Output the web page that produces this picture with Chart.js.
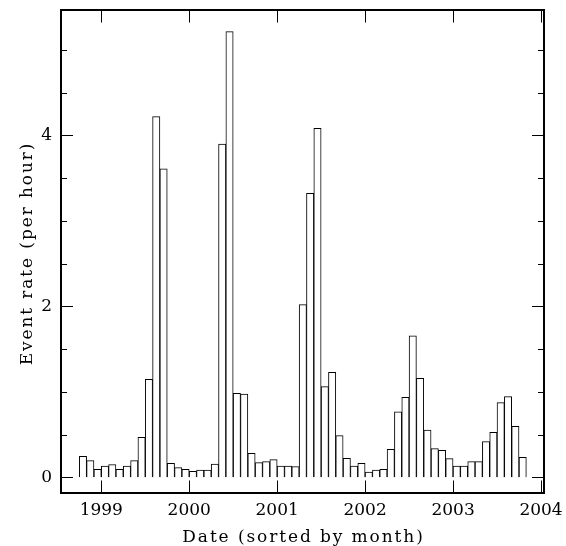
<!DOCTYPE html>
<html>
<head>
<meta charset="utf-8">
<script src="https://cdn.jsdelivr.net/npm/chart.js@4/dist/chart.umd.min.js"></script>
<style>
  html, body { margin: 0; padding: 0; background: #fff; }
</style>
</head>
<body>
<canvas id="rateChart" width="566" height="546"></canvas>
<script>
// Monthly bins, Oct 1998 .. Oct 2003
const months = [
  "1998-10", "1998-11", "1998-12",
  "1999-01", "1999-02", "1999-03", "1999-04", "1999-05", "1999-06",
  "1999-07", "1999-08", "1999-09", "1999-10", "1999-11", "1999-12",
  "2000-01", "2000-02", "2000-03", "2000-04", "2000-05", "2000-06",
  "2000-07", "2000-08", "2000-09", "2000-10", "2000-11", "2000-12",
  "2001-01", "2001-02", "2001-03", "2001-04", "2001-05", "2001-06",
  "2001-07", "2001-08", "2001-09", "2001-10", "2001-11", "2001-12",
  "2002-01", "2002-02", "2002-03", "2002-04", "2002-05", "2002-06",
  "2002-07", "2002-08", "2002-09", "2002-10", "2002-11", "2002-12",
  "2003-01", "2003-02", "2003-03", "2003-04", "2003-05", "2003-06",
  "2003-07", "2003-08", "2003-09", "2003-10"
];

const eventRate = [
  0.245, 0.194, 0.093,
  0.132, 0.148, 0.093, 0.132, 0.194, 0.468,
  1.146, 4.218, 3.606, 0.163, 0.113, 0.093,
  0.070, 0.085, 0.085, 0.155, 3.898, 5.212,
  0.982, 0.974, 0.280, 0.171, 0.183, 0.206,
  0.132, 0.132, 0.124, 2.019, 3.320, 4.080,
  1.060, 1.228, 0.487, 0.222, 0.132, 0.163,
  0.062, 0.085, 0.093, 0.327, 0.764, 0.936,
  1.653, 1.158, 0.553, 0.335, 0.316, 0.218,
  0.132, 0.132, 0.183, 0.183, 0.417, 0.526,
  0.873, 0.943, 0.596, 0.234
];

const yearTicks = [1999, 2000, 2001, 2002, 2003, 2004];
const rateLabelTicks = [0, 2, 4];
const rateMinorTicks = [0.5, 1, 1.5, 2.5, 3, 3.5, 4.5, 5];

const xTitle = "Date (sorted by month)";
const yTitle = "Event rate (per hour)";

const labelFont = { family: "DejaVu Serif", size: 17, lineHeight: 1.2 };

// bin centre as decimal year
function monthToYear(m) {
  const parts = m.split("-");
  return Number(parts[0]) + (Number(parts[1]) - 1 + 0.5) / 12;
}

// PGPLOT style box with inward ticks on all four sides, plus axis titles
const frameTicks = {
  id: "frameTicks",
  afterDraw(chart) {
    const ctx = chart.ctx;
    const area = chart.chartArea;
    const x = chart.scales.x;
    const y = chart.scales.y;
    ctx.save();
    ctx.strokeStyle = "#000";
    ctx.lineWidth = 1;
    ctx.beginPath();
    yearTicks.forEach(function(v) {
      const px = Math.round(x.getPixelForValue(v)) + 0.5;
      ctx.moveTo(px, area.bottom);
      ctx.lineTo(px, area.bottom - 12.5);
      ctx.moveTo(px, area.top);
      ctx.lineTo(px, area.top + 12.5);
    });
    rateLabelTicks.forEach(function(v) {
      const py = Math.round(y.getPixelForValue(v)) + 0.5;
      ctx.moveTo(area.left, py);
      ctx.lineTo(area.left + 12, py);
      ctx.moveTo(area.right, py);
      ctx.lineTo(area.right - 12, py);
    });
    rateMinorTicks.forEach(function(v) {
      const py = Math.round(y.getPixelForValue(v)) + 0.5;
      ctx.moveTo(area.left, py);
      ctx.lineTo(area.left + 6, py);
      ctx.moveTo(area.right, py);
      ctx.lineTo(area.right - 6, py);
    });
    ctx.stroke();
    ctx.lineWidth = 2;
    ctx.strokeRect(area.left, area.top, area.right - area.left, area.bottom - area.top);

    // titles: the original font is much wider, so spread the letters a bit
    ctx.fillStyle = "#000";
    ctx.font = "17px 'DejaVu Serif'";
    ctx.letterSpacing = "1.9px";
    ctx.textAlign = "center";
    ctx.textBaseline = "middle";
    ctx.fillText(xTitle, (area.left + area.right) / 2 + 1, area.bottom + 45);
    ctx.translate(28, (area.top + area.bottom) / 2 + 2);
    ctx.rotate(-Math.PI / 2);
    ctx.fillText(yTitle, 0, 0);
    ctx.restore();
  }
};

const ctx = document.getElementById("rateChart").getContext("2d");
new Chart(ctx, {
  type: "bar",
  data: {
    datasets: [
      {
        data: months.map(function(m, i) {
          return { x: monthToYear(m), y: eventRate[i] };
        }),
        backgroundColor: "#fff",
        borderColor: "#000",
        borderWidth: 1,
        borderSkipped: "start",
        barPercentage: 1,
        categoryPercentage: 1
      }
    ]
  },
  options: {
    responsive: false,
    animation: false,
    devicePixelRatio: 1,
    layout: { padding: { left: 0, right: 22, top: 10, bottom: 0 } },
    plugins: {
      legend: { display: false },
      tooltip: { enabled: false }
    },
    scales: {
      x: {
        type: "linear",
        offset: false,
        min: 1998.542,
        max: 2004.034,
        grid: { display: false, drawTicks: false, tickLength: 0 },
        border: { display: false },
        afterBuildTicks: function(scale) {
          scale.ticks = yearTicks.map(function(v) { return { value: v }; });
        },
        afterFit: function(scale) {
          scale.height = 53;
          scale.paddingLeft = 0;
          scale.paddingRight = 0;
        },
        ticks: {
          autoSkip: false,
          maxRotation: 0,
          color: "#000",
          font: labelFont,
          padding: 7,
          callback: function(v) { return String(v); }
        }
      },
      y: {
        min: -0.184,
        max: 5.465,
        grid: { display: false, drawTicks: false, tickLength: 0 },
        border: { display: false },
        afterBuildTicks: function(scale) {
          scale.ticks = rateLabelTicks.map(function(v) { return { value: v }; });
        },
        afterFit: function(scale) {
          scale.width = 61;
          scale.paddingTop = 0;
          scale.paddingBottom = 0;
        },
        ticks: {
          color: "#000",
          font: labelFont,
          padding: 9,
          callback: function(v) { return String(v); }
        }
      }
    }
  },
  plugins: [frameTicks]
});
</script>
</body>
</html>
